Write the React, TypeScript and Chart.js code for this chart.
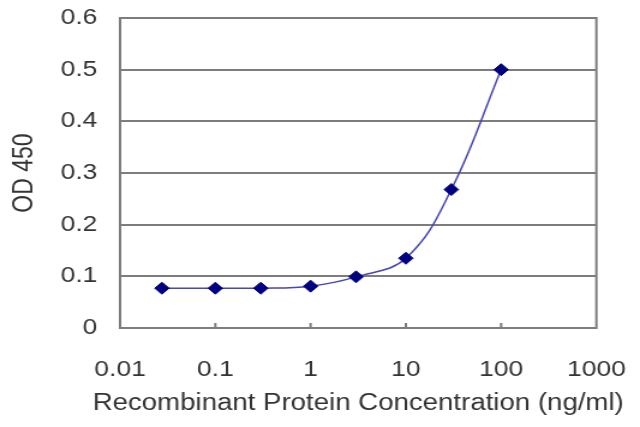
import React, { useEffect, useRef } from "react";
import { Chart, registerables } from "chart.js";

Chart.register(...registerables);

// concentrations (ng/ml) and OD readings
const concentrations = [0.0275, 0.1, 0.3, 1, 3, 10, 30, 100];
const odValues = [0.077, 0.077, 0.077, 0.081, 0.099, 0.135, 0.268, 0.5];

const xTicks = [0.01, 0.1, 1, 10, 100, 1000];
const yTicks = [0, 0.1, 0.2, 0.3, 0.4, 0.5, 0.6];

// the source image is a bit wider than tall, so the canvas is drawn narrow and stretched
const STRETCH = 1.2;
const CANVAS_W = 533;
const CANVAS_H = 427;

const gridColor = "#7d7d7d";
const textColor = "#333333";
const fontFamily = "'Liberation Sans', Arial, sans-serif";

const framePlugin = {
  id: "frame",
  afterLayout(chart: any) {
    // the axis title is wider than the plot; give it room so it is not squeezed
    const x = chart.scales.x;
    const mid = (x.left + x.right) / 2;
    x.left = mid - 265;
    x.right = mid + 265;
  },
  beforeDatasetsDraw(chart: any) {
    const { ctx, chartArea: a, scales } = chart;
    const x = scales.x;
    ctx.save();
    ctx.strokeStyle = gridColor;
    ctx.lineWidth = 2;
    ctx.beginPath();
    // right side of the plot box
    ctx.moveTo(a.right, a.top - 1);
    ctx.lineTo(a.right, a.bottom + 1);
    // small tick marks pointing into the plot
    x.ticks.forEach((t: any) => {
      const px = x.getPixelForValue(t.value);
      ctx.moveTo(px, a.bottom);
      ctx.lineTo(px, a.bottom - 5);
    });
    ctx.stroke();
    ctx.restore();
  },
};

const App: React.FC = () => {
  const canvasRef = useRef<HTMLCanvasElement | null>(null);
  const chartRef = useRef<Chart | null>(null);

  useEffect(() => {
    if (!canvasRef.current) return;
    const ctx = canvasRef.current.getContext("2d");
    if (!ctx) return;
    if (chartRef.current) chartRef.current.destroy();

    chartRef.current = new Chart(ctx, {
      type: "line",
      data: {
        datasets: [
          {
            data: concentrations.map((c, i) => ({ x: c, y: odValues[i] })),
            borderColor: "#4646b4",
            borderWidth: 1.5,
            tension: 0.4,
            pointStyle: "rectRot",
            pointRadius: 6,
            pointBackgroundColor: "#000080",
            pointBorderColor: "#000080",
            pointBorderWidth: 1,
          },
        ],
      },
      options: {
        responsive: false,
        animation: false,
        devicePixelRatio: 1,
        layout: {
          padding: { top: 18, right: CANVAS_W - 596 / STRETCH, left: 0, bottom: 0 },
        },
        plugins: {
          legend: { display: false },
          tooltip: { enabled: false },
        },
        scales: {
          x: {
            type: "logarithmic",
            min: 0.01,
            max: 1000,
            afterBuildTicks: (scale: any) => {
              scale.ticks = xTicks.map((v) => ({ value: v }));
            },
            afterFit: (scale: any) => {
              scale.height = CANVAS_H - 328;
              // let the layout padding alone decide the plot box
              scale.paddingLeft = 0;
              scale.paddingRight = 0;
            },
            grid: { display: false },
            // bottom line comes from the y grid line at 0
            border: { display: false },
            ticks: {
              autoSkip: false,
              maxRotation: 0,
              padding: 21,
              color: textColor,
              font: { family: fontFamily, size: 22 },
              callback: (v: any) => String(v),
            },
            title: {
              display: true,
              text: "Recombinant Protein Concentration (ng/ml)",
              color: textColor,
              font: { family: fontFamily, size: 23 },
              padding: { top: 0, bottom: 10 },
            },
          },
          y: {
            min: 0,
            max: 0.6,
            afterBuildTicks: (scale: any) => {
              scale.ticks = yTicks.map((v) => ({ value: v }));
            },
            afterFit: (scale: any) => {
              scale.width = 120 / STRETCH;
              scale.paddingTop = 0;
              scale.paddingBottom = 0;
            },
            grid: { color: gridColor, lineWidth: 2, drawTicks: false },
            border: { display: true, color: gridColor, width: 2 },
            ticks: {
              padding: 19,
              color: textColor,
              font: { family: fontFamily, size: 22 },
              callback: (v: any) => String(Math.round(v * 10) / 10),
            },
            title: {
              display: true,
              text: "OD 450",
              color: textColor,
              font: { family: fontFamily, size: 23 },
              padding: { top: 7, bottom: 0 },
            },
          },
        },
      },
      plugins: [framePlugin],
    } as any);

    return () => {
      if (chartRef.current) {
        chartRef.current.destroy();
        chartRef.current = null;
      }
    };
  }, []);

  return (
    <div style={{ position: "fixed", left: 0, top: 0, width: 640, height: CANVAS_H, background: "#fff" }}>
      <canvas
        ref={canvasRef}
        width={CANVAS_W}
        height={CANVAS_H}
        style={{ width: "640px", height: `${CANVAS_H}px` }}
      ></canvas>
    </div>
  );
};

export default App;
